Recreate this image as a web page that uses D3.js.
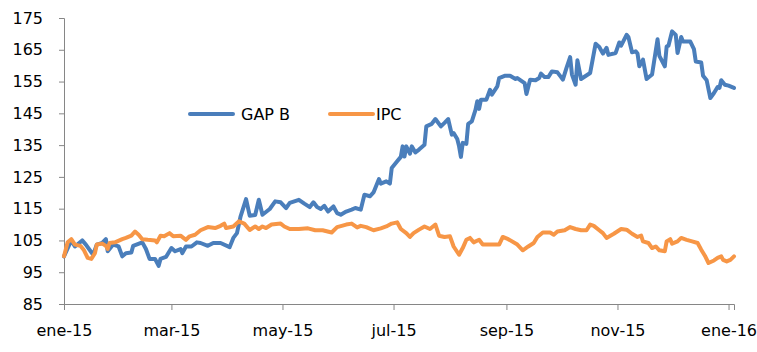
<!DOCTYPE html>
<html>
<head>
<meta charset="utf-8">
<script src="https://cdn.jsdelivr.net/npm/d3@7"></script>
<style>
  body { margin: 0; background: #fff; }
  svg { display: block; }
</style>
</head>
<body>
<div id="chart"></div>
<script>
const gapDates = [
  "2015-01-01","2015-01-05","2015-01-07","2015-01-11","2015-01-13","2015-01-17","2015-01-19","2015-01-22",
  "2015-01-24","2015-01-25","2015-01-28","2015-01-31","2015-02-02","2015-02-04","2015-02-07","2015-02-08",
  "2015-02-13","2015-02-15","2015-02-17","2015-02-20","2015-02-22","2015-02-23","2015-02-26","2015-03-01",
  "2015-03-03","2015-03-06","2015-03-07","2015-03-09","2015-03-12","2015-03-15","2015-03-17","2015-03-21",
  "2015-03-24","2015-03-28","2015-04-02","2015-04-04","2015-04-06","2015-04-08","2015-04-11","2015-04-13",
  "2015-04-16","2015-04-18","2015-04-20","2015-04-24","2015-04-27","2015-04-30","2015-05-03","2015-05-05",
  "2015-05-10","2015-05-13","2015-05-16","2015-05-18","2015-05-20","2015-05-22","2015-05-24","2015-05-26",
  "2015-05-29","2015-05-31","2015-06-02","2015-06-05","2015-06-08","2015-06-10","2015-06-13","2015-06-15",
  "2015-06-18","2015-06-20","2015-06-23","2015-06-24","2015-06-27","2015-06-29","2015-06-30","2015-07-03",
  "2015-07-05","2015-07-06","2015-07-07","2015-07-08","2015-07-10","2015-07-11","2015-07-13","2015-07-15",
  "2015-07-18","2015-07-19","2015-07-22","2015-07-24","2015-07-27","2015-07-29","2015-07-31","2015-08-02",
  "2015-08-03","2015-08-05","2015-08-06","2015-08-07","2015-08-08","2015-08-10","2015-08-11","2015-08-13",
  "2015-08-15","2015-08-16","2015-08-17","2015-08-18","2015-08-21","2015-08-23","2015-08-24","2015-08-27",
  "2015-08-28","2015-08-31","2015-09-03","2015-09-06","2015-09-07","2015-09-11","2015-09-12","2015-09-14",
  "2015-09-17","2015-09-19","2015-09-20","2015-09-22","2015-09-24","2015-09-26","2015-09-29","2015-10-01",
  "2015-10-02","2015-10-04","2015-10-06","2015-10-07","2015-10-09","2015-10-10","2015-10-12","2015-10-17",
  "2015-10-20","2015-10-22","2015-10-24","2015-10-26","2015-10-27","2015-10-31","2015-11-02","2015-11-03",
  "2015-11-06","2015-11-07","2015-11-09","2015-11-11","2015-11-12","2015-11-13","2015-11-15","2015-11-17",
  "2015-11-20","2015-11-23","2015-11-24","2015-11-27","2015-11-28","2015-11-29","2015-12-01","2015-12-03",
  "2015-12-04","2015-12-06","2015-12-07","2015-12-11","2015-12-13","2015-12-14","2015-12-17","2015-12-18",
  "2015-12-20","2015-12-22","2015-12-24","2015-12-26","2015-12-27","2015-12-28","2015-12-30","2016-01-01",
  "2016-01-04"
];
const gapValues = [
  100.0,105.0,103.1,105.0,103.7,100.5,103.7,104.2,
  105.4,101.6,103.7,103.1,100.0,101.0,101.2,103.3,
  104.4,102.3,99.2,99.2,97.0,99.2,99.8,102.6,
  101.6,102.3,101.0,103.1,103.1,104.4,104.2,103.3,
  104.2,104.2,102.9,105.8,107.3,112.6,118.0,112.8,
  113.0,117.8,113.1,114.9,117.3,117.0,115.2,116.8,
  117.8,116.6,115.5,117.0,115.5,114.9,115.9,114.1,
  115.7,113.6,113.1,114.1,114.7,115.2,114.7,119.4,
  118.9,120.1,124.3,122.9,123.6,122.9,127.8,129.9,
  131.3,134.6,131.4,134.6,132.3,134.6,132.7,133.6,
  135.1,140.9,141.7,143.2,140.9,142.0,143.2,138.3,
  138.8,136.9,134.6,131.3,135.7,135.4,141.7,142.5,
  146.1,148.8,146.4,149.3,149.3,152.4,150.9,153.5,
  156.1,156.8,156.8,155.8,156.1,154.5,151.1,155.6,
  155.4,156.1,157.5,156.4,156.4,158.2,157.9,156.4,
  155.6,159.3,162.7,157.2,154.0,161.7,155.8,157.7,
  166.9,165.9,163.8,165.6,163.4,164.0,167.3,166.3,
  169.7,169.0,164.2,164.5,163.8,159.8,161.9,155.8,
  157.2,168.3,163.1,159.8,166.0,166.3,170.8,169.7,
  164.0,169.0,167.6,167.6,165.2,161.3,161.0,156.8,
  155.4,149.8,151.4,153.3,153.0,155.4,154.0,153.7,
  153.0
];

const ipcDates = [
  "2015-01-01","2015-01-03","2015-01-05","2015-01-07","2015-01-10","2015-01-12","2015-01-14","2015-01-16",
  "2015-01-18","2015-01-19","2015-01-22","2015-01-24","2015-01-25","2015-01-26","2015-01-29","2015-02-02",
  "2015-02-04","2015-02-07","2015-02-09","2015-02-11","2015-02-13","2015-02-16","2015-02-20","2015-02-21",
  "2015-02-23","2015-02-25","2015-02-28","2015-03-02","2015-03-06","2015-03-09","2015-03-11","2015-03-14",
  "2015-03-17","2015-03-21","2015-03-25","2015-03-28","2015-03-30","2015-03-31","2015-04-04","2015-04-07",
  "2015-04-10","2015-04-13","2015-04-16","2015-04-18","2015-04-20","2015-04-22","2015-04-25","2015-04-30",
  "2015-05-02","2015-05-05","2015-05-10","2015-05-15","2015-05-19","2015-05-23","2015-05-28","2015-05-31",
  "2015-06-05","2015-06-08","2015-06-11","2015-06-13","2015-06-16","2015-06-20","2015-06-24","2015-06-27",
  "2015-06-30","2015-07-03","2015-07-05","2015-07-08","2015-07-10","2015-07-12","2015-07-15","2015-07-18",
  "2015-07-21","2015-07-24","2015-07-26","2015-07-29","2015-08-01","2015-08-03","2015-08-06","2015-08-08",
  "2015-08-10","2015-08-12","2015-08-14","2015-08-17","2015-08-19","2015-08-23","2015-08-28","2015-08-30",
  "2015-09-02","2015-09-07","2015-09-10","2015-09-13","2015-09-16","2015-09-18","2015-09-21","2015-09-25",
  "2015-09-27","2015-09-29","2015-10-03","2015-10-06","2015-10-09","2015-10-12","2015-10-15","2015-10-17",
  "2015-10-19","2015-10-22","2015-10-24","2015-10-26","2015-10-30","2015-11-03","2015-11-06","2015-11-09",
  "2015-11-12","2015-11-14","2015-11-15","2015-11-18","2015-11-20","2015-11-22","2015-11-24","2015-11-27",
  "2015-11-28","2015-11-30","2015-12-01","2015-12-04","2015-12-06","2015-12-09","2015-12-12","2015-12-15",
  "2015-12-17","2015-12-19","2015-12-21","2015-12-24","2015-12-26","2015-12-28","2015-12-29","2015-12-31",
  "2016-01-02","2016-01-04"
];
const ipcValues = [
  100.0,104.4,105.4,103.7,103.3,101.9,99.5,99.2,
  101.0,103.7,104.0,103.3,102.3,104.2,104.4,105.4,
  105.8,106.5,107.8,106.8,105.4,105.2,105.0,104.4,
  106.5,106.3,107.3,106.3,106.5,105.2,106.3,106.8,
  108.2,109.2,108.9,109.6,110.3,108.9,109.4,111.0,
  110.3,108.3,109.4,108.6,109.4,108.9,110.0,110.3,
  109.4,108.6,108.6,108.8,108.2,108.2,107.5,109.2,
  110.0,110.3,109.1,109.6,109.2,108.2,108.8,109.4,
  110.3,110.7,108.6,107.3,106.1,107.3,108.4,109.4,
  108.6,110.0,106.5,106.1,106.3,103.1,100.5,102.6,
  105.2,105.8,104.4,105.2,103.7,103.7,103.7,106.1,
  105.4,103.7,101.9,103.1,104.2,106.1,107.5,107.5,
  106.8,107.8,108.2,109.2,108.6,108.2,108.2,110.0,
  109.6,108.2,107.3,105.8,107.1,108.6,108.4,107.1,
  106.1,106.5,104.7,104.2,102.6,103.1,101.9,101.6,
  104.7,105.4,104.0,104.7,105.8,105.2,104.7,104.2,
  102.1,100.2,97.9,98.7,99.5,100.0,98.9,98.4,
  98.9,100.0
];

const tickDates = ["2015-01-01","2015-03-01","2015-05-01","2015-07-01","2015-09-01","2015-11-01","2016-01-01"];
const tickLabels = ["ene-15","mar-15","may-15","jul-15","sep-15","nov-15","ene-16"];
const yTicks = [85, 95, 105, 115, 125, 135, 145, 155, 165, 175];
const seriesNames = ["GAP B", "IPC"];
const seriesColors = ["#4A7EBB", "#F79646"];

const width = 757;
const height = 352;
const marginTop = 18;
const marginRight = 23;
const marginBottom = 48;
const marginLeft = 64;
const fontFamily = "'DejaVu Sans', Verdana, sans-serif";

const parse = d3.timeParse("%Y-%m-%d");
const series = [
  gapDates.map((d, i) => ({date: parse(d), value: gapValues[i]})),
  ipcDates.map((d, i) => ({date: parse(d), value: ipcValues[i]}))
];

const x = d3.scaleTime()
  .domain([parse("2015-01-01"), parse("2016-01-04")])
  .range([marginLeft, width - marginRight]);

const y = d3.scaleLinear()
  .domain([85, 175])
  .range([height - marginBottom, marginTop]);

const svg = d3.select("#chart")
  .append("svg")
    .attr("width", width)
    .attr("height", height)
    .attr("viewBox", [0, 0, width, height])
    .style("font", `16px ${fontFamily}`);

// axes
const axisColor = "#868686";

svg.append("g")
    .attr("transform", `translate(${marginLeft},0)`)
    .call(d3.axisLeft(y).tickValues(yTicks).tickSizeOuter(0).tickSize(5).tickPadding(16))
    .call(g => g.select(".domain").attr("stroke", axisColor))
    .call(g => g.selectAll(".tick line").attr("stroke", axisColor))
    .call(g => g.selectAll(".tick text").attr("fill", "#000").style("font-size", "16px").style("font-family", fontFamily));

const labelOf = new Map(tickDates.map((d, i) => [+parse(d), tickLabels[i]]));

svg.append("g")
    .attr("transform", `translate(0,${height - marginBottom})`)
    .call(d3.axisBottom(x).tickValues(tickDates.map(parse)).tickFormat(d => labelOf.get(+d)).tickSizeOuter(0).tickSize(6).tickPadding(15))
    .call(g => g.select(".domain").attr("stroke", axisColor))
    .call(g => g.selectAll(".tick line").attr("stroke", axisColor))
    .call(g => g.selectAll(".tick text").attr("fill", "#000").style("font-size", "16px").style("font-family", fontFamily));

// lines
const line = d3.line()
  .x(d => x(d.date))
  .y(d => y(d.value));

svg.append("g")
  .selectAll("path")
  .data(series)
  .join("path")
    .attr("fill", "none")
    .attr("stroke", (d, i) => seriesColors[i])
    .attr("stroke-width", 4)
    .attr("stroke-linejoin", "round")
    .attr("stroke-linecap", "round")
    .attr("d", line);

// legend
const legendX = [190, 330];
const legendY = 114;
const legend = svg.append("g")
  .selectAll("g")
  .data(seriesNames)
  .join("g")
    .attr("transform", (d, i) => `translate(${legendX[i]},${legendY})`);

legend.append("line")
    .attr("x1", 0)
    .attr("x2", 43)
    .attr("stroke", (d, i) => seriesColors[i])
    .attr("stroke-width", 4)
    .attr("stroke-linecap", "round");

legend.append("text")
    .attr("x", (d, i) => i === 0 ? 51 : 46)
    .attr("dy", "0.35em")
    .attr("fill", "#000")
    .text(d => d);
</script>
</body>
</html>
